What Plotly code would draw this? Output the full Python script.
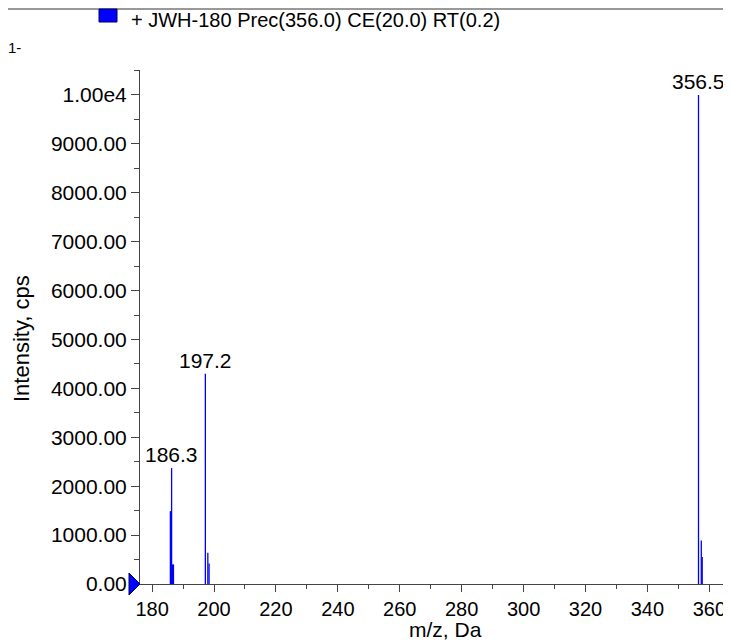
import plotly.graph_objects as go

# ---- data ----
mz = [185.9, 186.3, 186.6, 186.9, 197.2, 198.0, 198.4, 356.5, 357.4, 357.7]
intensity = [1490, 2370, 400, 400, 4300, 640, 420, 10000, 890, 550]
label_mz = [186.3, 197.2, 356.5]
label_int = [2370, 4300, 10000]
label_text = ["186.3", "197.2", "356.5"]
y_tick_vals = [0, 1000, 2000, 3000, 4000, 5000, 6000, 7000, 8000, 9000, 10000]
y_tick_text = ["0.00", "1000.00", "2000.00", "3000.00", "4000.00", "5000.00",
               "6000.00", "7000.00", "8000.00", "9000.00", "1.00e4"]
x_tick_vals = [180, 200, 220, 240, 260, 280, 300, 320, 340, 360]
legend_text = "+ JWH-180 Prec(356.0) CE(20.0) RT(0.2)"

# page body has an 8px margin: the figure starts at (8, 8) of the screenshot
OFF = 8
W, H = 731 - OFF, 641 - OFF
ML, MR, MT, MB = 140 - OFF, 0, 70 - OFF, 57
PW, PH = W - ML - MR, H - MT - MB
FONT = "Liberation Sans, Arial, sans-serif"
FS = 20

def px(x):
    """screenshot x pixel -> paper x"""
    return (x - OFF - ML) / PW

def py(y):
    """screenshot y pixel -> paper y"""
    return (H - MB - (y - OFF)) / PH

# stick spectrum
xs, ys = [], []
for m, i in zip(mz, intensity):
    xs += [m, m, None]
    ys += [0, i, None]

fig = go.Figure()
fig.add_trace(go.Scatter(x=xs, y=ys, mode="lines",
                         line=dict(color="#0000ff", width=1.3),
                         hoverinfo="skip", showlegend=False))

annotations = []
for m, i, t in zip(label_mz, label_int, label_text):
    annotations.append(dict(x=m, y=i, xref="x", yref="y", text=t, showarrow=False,
                            yanchor="bottom", xanchor="center",
                            font=dict(size=21, color="black", family=FONT)))

# axis titles
annotations.append(dict(x=px(445), y=py(629), xref="paper", yref="paper", text="m/z, Da",
                        showarrow=False, xanchor="center", yanchor="middle",
                        font=dict(size=21, color="black", family=FONT)))
annotations.append(dict(x=px(22), y=py(339), xref="paper", yref="paper", text="Intensity, cps",
                        showarrow=False, xanchor="center", yanchor="middle", textangle=-90,
                        font=dict(size=22, color="black", family=FONT)))
# legend text
annotations.append(dict(x=px(129), y=py(20), xref="paper", yref="paper", text=legend_text,
                        showarrow=False, xanchor="left", yanchor="middle",
                        font=dict(size=FS, color="black", family=FONT)))
# cropped artifact at left edge
annotations.append(dict(x=px(6), y=py(48), xref="paper", yref="paper", text="1-",
                        showarrow=False, xanchor="left", yanchor="middle",
                        font=dict(size=15, color="black", family=FONT)))

shapes = [
    # top frame line
    dict(type="line", xref="paper", yref="paper", x0=px(0), x1=px(731), y0=py(9), y1=py(9),
         line=dict(color="#333333", width=1)),
    # legend swatch
    dict(type="rect", xref="paper", yref="paper", x0=px(99), x1=px(117), y0=py(22), y1=py(9),
         fillcolor="#0000ff", line=dict(color="#000060", width=1)),
    # baseline marker triangle
    dict(type="path", xref="paper", yref="paper", xsizemode="pixel", ysizemode="pixel",
         xanchor=0, yanchor=0, path="M -11,11 L 0,0 L -11,-11 Z",
         fillcolor="#0000ff", line=dict(color="#000060", width=1)),
]

fig.update_layout(
    width=W, height=H,
    margin=dict(l=ML, r=MR, t=MT, b=MB, pad=0),
    paper_bgcolor="white", plot_bgcolor="white",
    font=dict(family=FONT, size=FS, color="black"),
    annotations=annotations, shapes=shapes,
    xaxis=dict(range=[176.09, 367.0], tickvals=x_tick_vals, ticks="outside", ticklen=7,
               tickwidth=1, tickcolor="#444", showline=True, linecolor="#444", linewidth=1,
               showgrid=False, zeroline=False,
               minor=dict(tick0=180, dtick=10, ticks="outside", ticklen=4, tickcolor="#444",
                          showgrid=False),
               tickfont=dict(size=FS, family=FONT, color="black")),
    yaxis=dict(range=[0, 10511], tickvals=y_tick_vals, ticktext=y_tick_text, ticks="outside",
               ticklen=8, tickwidth=1, tickcolor="#444", showline=True, linecolor="#444",
               linewidth=1, showgrid=False, zeroline=False,
               minor=dict(tick0=0, dtick=500, ticks="outside", ticklen=5, tickcolor="#444",
                          showgrid=False),
               tickfont=dict(size=21, family=FONT, color="black")),
)

fig.write_html("out.html")
